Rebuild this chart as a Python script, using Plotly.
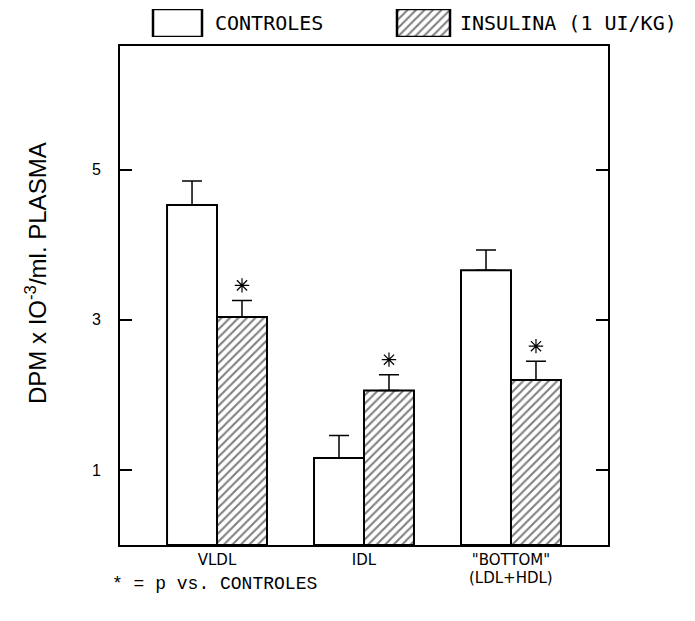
import plotly.graph_objects as go

# ---- data ----
categories = ["VLDL", "IDL", "\"BOTTOM\""]
cat_sub = ["", "", "(LDL+HDL)"]
controles = [4.53, 1.16, 3.66]
controles_err = [0.32, 0.30, 0.27]
insulina = [3.04, 2.06, 2.20]
insulina_err = [0.22, 0.21, 0.25]
significant = [True, True, True]
y_tickvals = [1, 3, 5]
y_title = "DPM x IO<sup>-3</sup>/ml. PLASMA"

# ---- layout constants (page pixels; page body has an 8px margin) ----
OFF = 8
W, H = 695 - OFF, 621 - OFF
ML, MR, MT, MB = 120 - OFF, 87, 0, 76
PH = H - MT - MB
PW = W - ML - MR
PLOT_TOP_PX = 46 - OFF
BAR_W = 0.34
X_RANGE = [-0.66, 2.66]
Y_MAX = 6.65
AST_OFF = 0.2


def py(page_y):
    """page pixel y -> paper y (clamped)"""
    return min(1.0, max(0.0, (H - MB - (page_y - OFF)) / PH))


def py_free(page_y):
    return (H - MB - (page_y - OFF)) / PH


def px(page_x):
    return (page_x - OFF - ML) / PW


xpos = list(range(len(categories)))
ydom_top = (H - MB - PLOT_TOP_PX) / PH

fig = go.Figure()

fig.add_trace(go.Bar(
    x=xpos, y=controles, width=BAR_W, offset=-BAR_W,
    marker=dict(color="white", line=dict(color="black", width=2)),
    error_y=dict(type="data", array=controles_err, symmetric=False,
                 arrayminus=[0] * len(controles), color="black",
                 thickness=1.5, width=10),
    name="CONTROLES", showlegend=False,
))
fig.add_trace(go.Bar(
    x=xpos, y=insulina, width=BAR_W, offset=0,
    marker=dict(color="white", line=dict(color="black", width=2),
                pattern=dict(shape="/", size=6, solidity=0.35,
                             fgcolor="black", bgcolor="white")),
    error_y=dict(type="data", array=insulina_err, symmetric=False,
                 arrayminus=[0] * len(insulina), color="black",
                 thickness=1.5, width=10),
    name="INSULINA (1 UI/KG)", showlegend=False,
))

# significance asterisks
ax = [x + BAR_W / 2 for x, s in zip(xpos, significant) if s]
ay = [v + e + AST_OFF for v, e, s in zip(insulina, insulina_err, significant) if s]
fig.add_trace(go.Scatter(
    x=ax, y=ay, mode="markers",
    marker=dict(symbol="asterisk-open", size=12, color="black",
                line=dict(color="black", width=1.2)),
    showlegend=False, hoverinfo="skip",
))

# ---- custom legend (drawn on a small helper axis in the top margin) ----
LEG_Y0_PX, LEG_Y1_PX = 9, 37
leg_boxes = [(177.5, 49), (423.5, 53)]
fig.add_trace(go.Bar(
    x=[leg_boxes[0][0]], y=[1], width=[leg_boxes[0][1]],
    xaxis="x2", yaxis="y2",
    marker=dict(color="white", line=dict(color="black", width=2.5)),
    showlegend=False, hoverinfo="skip",
))
fig.add_trace(go.Bar(
    x=[leg_boxes[1][0]], y=[1], width=[leg_boxes[1][1]],
    xaxis="x2", yaxis="y2",
    marker=dict(color="white", line=dict(color="black", width=2.5),
                pattern=dict(shape="/", size=6, solidity=0.35,
                             fgcolor="black", bgcolor="white")),
    showlegend=False, hoverinfo="skip",
))

leg_font = dict(family="DejaVu Sans Mono", size=20, color="black")
annotations = [
    dict(text="CONTROLES", xref="x2", yref="paper", x=213,
         y=py(23), xanchor="left", yanchor="middle",
         showarrow=False, font=leg_font),
    dict(text="INSULINA (1 UI/KG)", xref="x2", yref="paper", x=458,
         y=py(23), xanchor="left", yanchor="middle",
         showarrow=False, font=leg_font),
    dict(text="* = p vs. CONTROLES", xref="paper", yref="paper",
         x=px(110), y=py_free(584), xanchor="left",
         yanchor="middle", showarrow=False,
         font=dict(family="Liberation Mono", size=18, color="black")),
    dict(text=y_title, xref="paper", yref="paper", x=px(36),
         y=py_free(273), xanchor="center", yanchor="middle",
         textangle=-90, showarrow=False,
         font=dict(family="Liberation Sans", size=24, color="black")),
]
for x, sub in zip(xpos, cat_sub):
    if sub:
        annotations.append(dict(
            text=sub, xref="x", yref="paper", x=x,
            y=py_free(578), xanchor="center", yanchor="middle",
            showarrow=False,
            font=dict(family="DejaVu Sans", size=15, color="black")))

hidden_axis = dict(showticklabels=False, showline=False, showgrid=False,
                   zeroline=False, ticks="", fixedrange=True)

fig.update_layout(
    width=W, height=H,
    margin=dict(l=ML, r=MR, t=MT, b=MB, pad=0),
    paper_bgcolor="white", plot_bgcolor="white",
    barmode="overlay",
    xaxis=dict(
        range=X_RANGE, domain=[0, 1],
        tickvals=xpos, ticktext=categories, ticks="",
        tickfont=dict(family="DejaVu Sans", size=15, color="black"),
        ticklabelstandoff=0,
        showline=True, linecolor="black", linewidth=2, mirror=True,
        showgrid=False, zeroline=False,
    ),
    yaxis=dict(
        range=[0, Y_MAX], domain=[0, ydom_top],
        tickvals=y_tickvals, ticks="inside", ticklen=12, tickwidth=2,
        tickcolor="black",
        tickfont=dict(family="Liberation Sans", size=16, color="black"),
        ticklabelstandoff=14,
        showline=True, linecolor="black", linewidth=2, mirror="ticks",
        showgrid=False, zeroline=False,
    ),
    xaxis2=dict(range=[ML + OFF, W + OFF - MR], domain=[0, 1],
                anchor="y2", **hidden_axis),
    yaxis2=dict(range=[0, 1], anchor="x2",
                domain=[py(LEG_Y1_PX), py(LEG_Y0_PX)], **hidden_axis),
    annotations=annotations,
)

fig.write_html("out.html")
